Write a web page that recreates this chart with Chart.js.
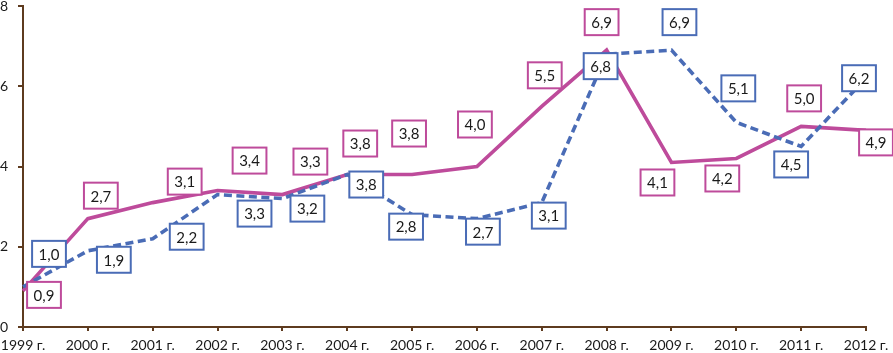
<!DOCTYPE html>
<html>
<head>
<meta charset="utf-8">
<script src="https://cdn.jsdelivr.net/npm/chart.js@4"></script>
<style>
  html, body { margin: 0; padding: 0; background: #fff; }
  #wrap { width: 893px; height: 353px; }
</style>
</head>
<body>
<div id="wrap"><canvas id="chart"></canvas></div>
<script>
// data
const years = ['1999 г.', '2000 г.', '2001 г.', '2002 г.', '2003 г.', '2004 г.', '2005 г.',
  '2006 г.', '2007 г.', '2008 г.', '2009 г.', '2010 г.', '2011 г.', '2012 г.'];
const pinkValues = [0.9, 2.7, 3.1, 3.4, 3.3, 3.8, 3.8, 4.0, 5.5, 6.9, 4.1, 4.2, 5.0, 4.9];
const blueValues = [1.0, 1.9, 2.2, 3.3, 3.2, 3.8, 2.8, 2.7, 3.1, 6.8, 6.9, 5.1, 4.5, 6.2];
const yTicks = [0, 2, 4, 6, 8];

// where each value box sits relative to its point (px)
const pinkLabelShift = [[21, 4], [13, -23], [32, -21], [32, -30], [28, -33], [13, -31], [-3, -41],
  [-2, -42], [3, -31], [-5, -28], [-14, 20], [-14, 20], [3, -28], [10, 12]];
const blueLabelShift = [[26, -33], [26, 9], [34, -2], [37, 19], [25, 10], [19, 10], [-6, 12],
  [6, 13], [7, 13], [-6, 12], [8, -28], [2, -34], [-10, 18], [-7, 0]];

const PINK = '#BE4B9B';
const BLUE = '#4A6CB6';
const AXIS = '#5E3B1F';
const FONT = 'Lato, "Open Sans", sans-serif';

// boxed value labels drawn on top of both lines
const valueBoxes = {
  id: 'valueBoxes',
  afterDatasetsDraw(chart) {
    const ctx = chart.ctx;
    ctx.save();
    ctx.font = '15px ' + FONT;
    ctx.textAlign = 'center';
    ctx.textBaseline = 'middle';
    chart.data.datasets.forEach((ds, di) => {
      const meta = chart.getDatasetMeta(di);
      meta.data.forEach((pt, i) => {
        const [dx, dy] = ds.labelShift[i];
        const cx = pt.x + dx;
        const cy = pt.y + dy;
        const text = ds.data[i].toFixed(1).replace('.', ',');
        const w = ctx.measureText(text).width + 13;
        const h = 26;
        ctx.fillStyle = '#fff';
        ctx.fillRect(cx - w / 2, cy - h / 2, w, h);
        ctx.strokeStyle = ds.borderColor;
        ctx.lineWidth = 2;
        ctx.strokeRect(cx - w / 2, cy - h / 2, w, h);
        ctx.fillStyle = '#1a1a1a';
        ctx.fillText(text, cx, cy + 1);
      });
    });
    ctx.restore();
  }
};

new Chart(document.getElementById('chart').getContext('2d'), {
  type: 'line',
  data: {
    labels: years,
    datasets: [
      {
        data: blueValues,
        labelShift: blueLabelShift,
        borderColor: BLUE,
        borderWidth: 3.6,
        borderDash: [8, 4.5],
        pointRadius: 0,
        tension: 0,
        order: 0
      },
      {
        data: pinkValues,
        labelShift: pinkLabelShift,
        borderColor: PINK,
        borderWidth: 3.6,
        pointRadius: 0,
        tension: 0,
        order: 1
      }
    ]
  },
  options: {
    responsive: true,
    maintainAspectRatio: false,
    animation: false,
    layout: { padding: { left: 0, top: 6, right: 27, bottom: 0 } },
    plugins: {
      legend: { display: false },
      tooltip: { enabled: false }
    },
    scales: {
      x: {
        offset: false,
        grid: { drawOnChartArea: false, color: AXIS, tickLength: 4, lineWidth: 2 },
        border: { color: AXIS, width: 2 },
        ticks: { color: '#1a1a1a', font: { family: FONT, size: 14 }, padding: 6, maxRotation: 0, autoSkip: false },
        afterFit(scale) {
          scale.height = 26;
          scale.paddingLeft = 0;
          scale.paddingRight = 0;
        }
      },
      y: {
        min: 0,
        max: 8,
        grid: { drawOnChartArea: false, color: AXIS, tickLength: 5, lineWidth: 2 },
        border: { color: AXIS, width: 2 },
        afterBuildTicks(scale) {
          scale.ticks = yTicks.map(v => ({ value: v }));
        },
        ticks: { color: '#1a1a1a', font: { family: FONT, size: 14 }, padding: 10 },
        afterFit(scale) {
          scale.width = 23;
          scale.paddingTop = 0;
          scale.paddingBottom = 0;
        }
      }
    }
  },
  plugins: [valueBoxes]
});
</script>
</body>
</html>
